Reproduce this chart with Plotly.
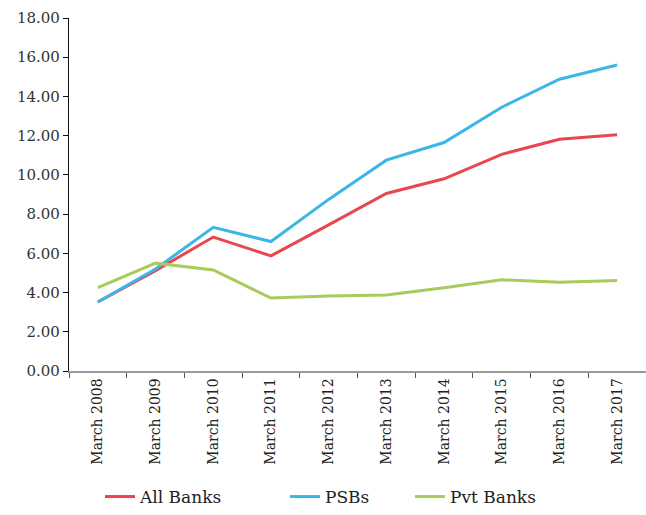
import plotly.graph_objects as go

categories = ["March 2008", "March 2009", "March 2010", "March 2011", "March 2012",
              "March 2013", "March 2014", "March 2015", "March 2016", "March 2017"]
all_banks = [3.52, 5.12, 6.83, 5.87, 7.45, 9.05, 9.80, 11.05, 11.82, 12.05]
psbs = [3.52, 5.20, 7.33, 6.60, 8.75, 10.75, 11.65, 13.45, 14.88, 15.60]
pvt_banks = [4.25, 5.50, 5.15, 3.72, 3.82, 3.88, 4.25, 4.65, 4.52, 4.62]
y_ticks = [0, 2, 4, 6, 8, 10, 12, 14, 16, 18]
y_tick_labels = ["%.2f" % v for v in y_ticks]

series = [
    ("All Banks", all_banks, "#E9464F", "legend"),
    ("PSBs", psbs, "#3CB6E6", "legend2"),
    ("Pvt Banks", pvt_banks, "#A9CB5B", "legend3"),
]

fig = go.Figure()
for name, vals, color, leg in series:
    fig.add_trace(go.Scatter(x=categories, y=vals, mode="lines", name=name,
                             line=dict(color=color, width=3), legend=leg))

legfont = dict(family="DejaVu Serif", size=17, color="#222")
H = 515
plot_bottom = 371
plot_top = 18
ph = plot_bottom - plot_top
ly = (plot_bottom - 497) / ph

def legpos(xpix):
    return dict(x=(xpix - 69) / 577, xanchor="left", y=ly, yanchor="middle",
                orientation="h", font=legfont, bgcolor="rgba(0,0,0,0)",
                borderwidth=0)

fig.update_layout(
    width=646, height=H,
    margin=dict(l=69, r=0, t=plot_top, b=H - plot_bottom),
    paper_bgcolor="white", plot_bgcolor="white",
    showlegend=True,
    legend=legpos(100),
    legend2=legpos(285),
    legend3=legpos(410),
    xaxis=dict(
        type="category", range=[-0.5, 9.5],
        showgrid=False, showline=True, linecolor="#999999", linewidth=1.5,
        ticks="outside", ticklen=5, tickcolor="#555", tickwidth=1,
        tickson="boundaries", tickangle=-90,
        tickfont=dict(family="DejaVu Serif", size=14, color="#222"),
        zeroline=False,
    ),
    yaxis=dict(
        range=[0, 18], tickvals=y_ticks, ticktext=y_tick_labels,
        showgrid=False, showline=True, linecolor="#111", linewidth=1.2,
        ticks="outside", ticklen=5, tickcolor="#111", tickwidth=1,
        tickfont=dict(family="DejaVu Serif", size=15, color="#333"),
        zeroline=False,
    ),
)

fig.write_html("out.html")
